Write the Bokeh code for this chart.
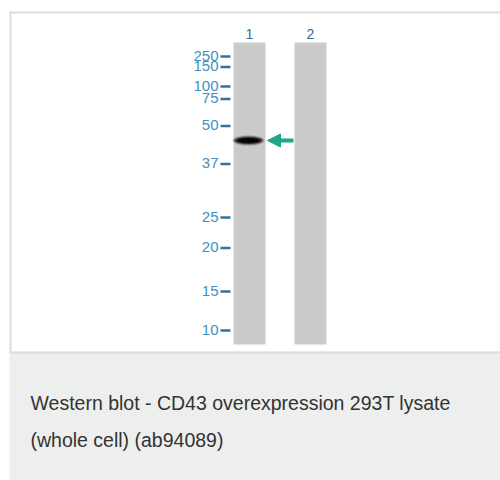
from bokeh.plotting import figure
from bokeh.models import Range1d, Arrow, NormalHead
from bokeh.core.properties import value
from bokeh.embed import file_html
from bokeh.resources import INLINE

# ---- data ----
lane_labels = ["1", "2"]
marker_labels = ["250", "150", "100", "75", "50", "37", "25", "20", "15", "10"]
marker_pos = [55, 65.5, 85, 97.5, 124.5, 162.5, 216, 246.5, 290, 329]   # migration (px from top)
band_lane = [1]
band_pos = [140]
caption_lines = ["Western blot - CD43 overexpression 293T lysate",
                 "(whole cell) (ab94089)"]

# ---- layout / style ----
W, H = 500, 480
lane_x0, lane_gap, lane_w = 249, 61, 32
lane_top, lane_bottom = 42, 344
lane_color = "#cbcbcb"
label_color = "#4091c0"
lane_label_color = "#2f6f9c"
tick_color = "#2f739e"
teal = "#1fa58a"
border = "#dddddd"

p = figure(width=W, height=H, x_range=Range1d(0, W), y_range=Range1d(H, 0),
           output_backend="svg", toolbar_location=None, min_border=0,
           x_axis_location=None, y_axis_location=None)
p.grid.visible = False
p.outline_line_color = None
p.background_fill_color = "white"
p.border_fill_color = "white"

# frame borders
p.quad(left=[9], right=[11], top=[11], bottom=[352], fill_color=border, line_color=None)
p.quad(left=[9], right=[W], top=[11], bottom=[13], fill_color=border, line_color=None)
# caption box
p.quad(left=[9], right=[W], top=[351], bottom=[H], fill_color="#edeeee", line_color=None)
p.quad(left=[9], right=[W], top=[351], bottom=[353], fill_color=border, line_color=None)

# lanes
lane_cx = [lane_x0 + i * lane_gap for i in range(len(lane_labels))]
p.quad(left=[c - lane_w / 2 for c in lane_cx], right=[c + lane_w / 2 for c in lane_cx],
       top=[lane_top] * len(lane_cx), bottom=[lane_bottom] * len(lane_cx),
       fill_color=lane_color, line_color=None)
p.text(x=lane_cx, y=[33] * len(lane_cx), text=lane_labels, text_align="center",
       text_baseline="middle", text_font=value("Liberation Sans"), text_font_size="14px",
       text_color=lane_label_color)

# marker ladder
p.segment(x0=[220] * len(marker_pos), x1=[230] * len(marker_pos),
          y0=[y + 1 for y in marker_pos], y1=[y + 1 for y in marker_pos],
          line_color=tick_color, line_width=2.5)
p.text(x=[218] * len(marker_pos), y=marker_pos, text=marker_labels, text_align="right",
       text_baseline="middle", text_font=value("Liberation Sans"), text_font_size="15px",
       text_color=label_color)

# band (soft edges)
bx = [lane_cx[l - 1] - 1 for l in band_lane]
for w, h, a in [(32, 11, 0.15), (30, 9, 0.3), (27, 7, 0.6), (22, 5, 0.9)]:
    p.ellipse(x=bx, y=band_pos, width=w, height=h, fill_color="black", fill_alpha=a, line_color=None)

# arrow pointing at the band
for l, y in zip(band_lane, band_pos):
    xe = lane_cx[l - 1] + lane_w / 2 + 2
    p.add_layout(Arrow(end=NormalHead(size=13, fill_color=teal, line_color=teal),
                       x_start=xe + 26, y_start=y, x_end=xe, y_end=y,
                       line_color=teal, line_width=4))

# caption
p.text(x=[30] * len(caption_lines), y=[402 + 37.5 * i for i in range(len(caption_lines))],
       text=caption_lines, text_baseline="alphabetic", text_font=value("Liberation Sans"),
       text_font_size="19.5px", text_color="#333333")

open("out.html", "w").write(file_html(p, INLINE))
